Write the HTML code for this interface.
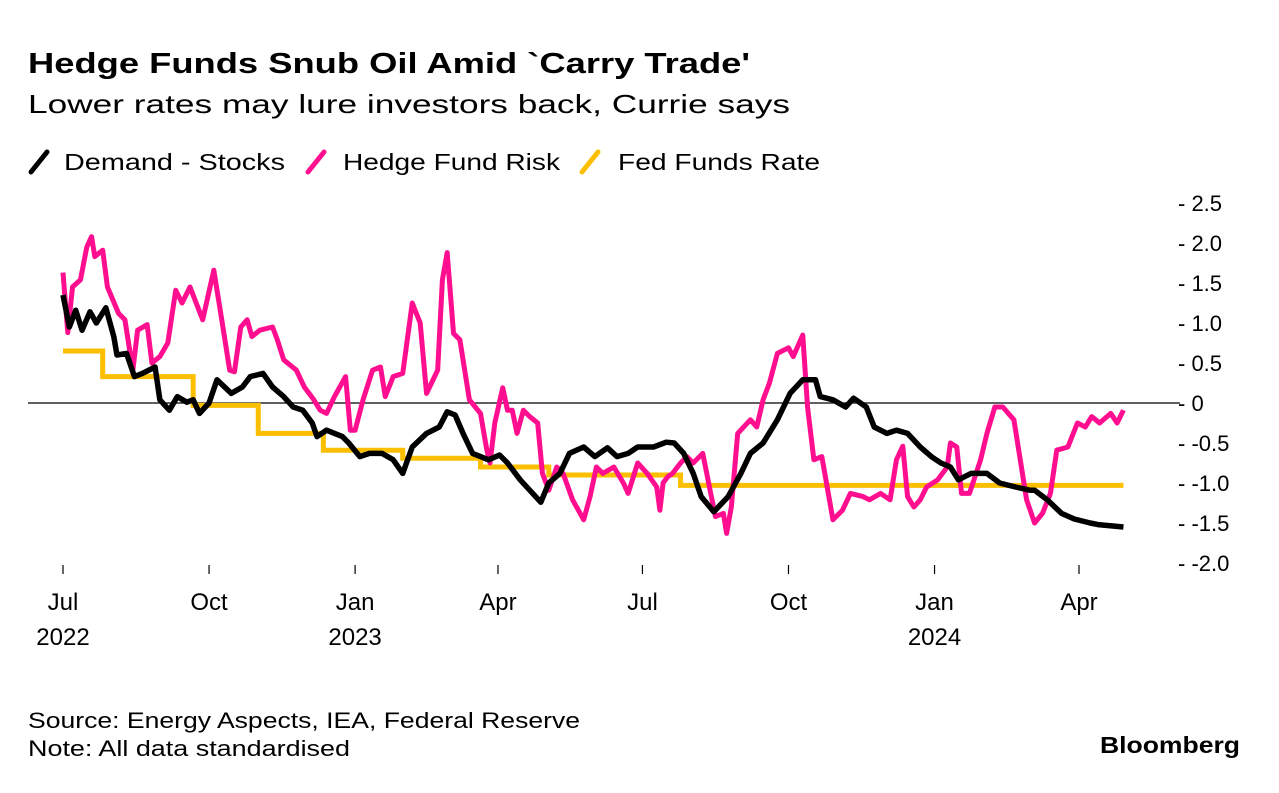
<!DOCTYPE html>
<html><head><meta charset="utf-8"><style>
body{margin:0;background:#fff;width:1279px;height:788px;overflow:hidden;font-family:"Liberation Sans",sans-serif;color:#000}
svg text{font-family:"Liberation Sans",sans-serif}
</style></head><body>
<svg width="1279" height="788">
<text x="28" y="73" font-size="29" font-weight="bold" textLength="722" lengthAdjust="spacingAndGlyphs">Hedge Funds Snub Oil Amid `Carry Trade'</text>
<text x="28" y="113" font-size="26" textLength="762" lengthAdjust="spacingAndGlyphs">Lower rates may lure investors back, Currie says</text>
<g>
<g><line x1="31" y1="172" x2="47" y2="152" stroke="#000" stroke-width="5" stroke-linecap="round"/><text x="64" y="170" font-size="23" textLength="221" lengthAdjust="spacingAndGlyphs">Demand - Stocks</text></g>
<g><line x1="308" y1="172" x2="324" y2="152" stroke="#ff0f8f" stroke-width="5" stroke-linecap="round"/><text x="343" y="170" font-size="23" textLength="217" lengthAdjust="spacingAndGlyphs">Hedge Fund Risk</text></g>
<g><line x1="582" y1="172" x2="598" y2="152" stroke="#fcbf00" stroke-width="5" stroke-linecap="round"/><text x="618" y="170" font-size="23" textLength="202" lengthAdjust="spacingAndGlyphs">Fed Funds Rate</text></g>
</g>
<g id="yaxis"></g>
<g id="xaxis"></g>
<line x1="28" y1="403" x2="1180" y2="403" stroke="#000" stroke-width="1.2"/>
<g id="series"></g>
<text x="28" y="728" font-size="22" textLength="552" lengthAdjust="spacingAndGlyphs">Source: Energy Aspects, IEA, Federal Reserve</text>
<text x="28" y="756" font-size="22" textLength="322" lengthAdjust="spacingAndGlyphs">Note: All data standardised</text>
<text x="1100" y="753" font-size="23" font-weight="bold" textLength="140" lengthAdjust="spacingAndGlyphs">Bloomberg</text>
</svg>
<script>
// days since 2022-07-01
const yTicks=[2.5,2.0,1.5,1.0,0.5,0,-0.5,-1.0,-1.5,-2.0];
const yTickLabels=["2.5","2.0","1.5","1.0","0.5","0","-0.5","-1.0","-1.5","-2.0"];
const xTickDays=[0,92,184,274,365,457,549,640];
const xTickLabels=["Jul","Oct","Jan","Apr","Jul","Oct","Jan","Apr"];
const xYearLabels=["2022","","2023","","","","2024",""];
const hfDays=[0,3,6,11,15,18,20,25,28,35,39,44,47,53,56,61,66,71,75,80,88,95,100,105,108,112,116,119,124,132,135,139,147,152,158,162,166,171,178,181,184,189,195,200,203,208,214,220,225,229,236,239,242,246,250,256,263,267,269,272,277,280,283,286,290,294,299,302,306,311,315,321,328,332,336,340,347,353,356,362,368,374,376,378,381,384,389,393,397,403,408,411,416,418,421,425,433,437,441,445,450,457,460,466,469,473,478,485,491,496,504,508,515,521,525,529,532,536,540,544,551,557,559,563,566,571,578,582,587,592,599,603,607,612,617,622,626,633,639,644,648,653,660,664,668];
const hfVals=[1.63,0.88,1.45,1.54,1.95,2.08,1.83,1.91,1.45,1.12,1.04,0.41,0.91,0.98,0.5,0.58,0.75,1.41,1.25,1.45,1.04,1.66,1.04,0.41,0.39,0.95,1.04,0.83,0.91,0.95,0.79,0.54,0.41,0.2,0.04,-0.09,-0.13,0.08,0.33,-0.34,-0.34,0.04,0.41,0.45,0.08,0.33,0.37,1.25,1.0,0.12,0.41,1.54,1.88,0.87,0.79,0.04,-0.13,-0.59,-0.75,-0.25,0.19,-0.09,-0.09,-0.38,-0.09,-0.17,-0.25,-0.88,-1.09,-0.8,-0.88,-1.21,-1.46,-1.17,-0.8,-0.88,-0.8,-1.0,-1.13,-0.75,-0.88,-1.05,-1.34,-1.0,-0.92,-0.88,-0.75,-0.67,-0.75,-0.63,-1.13,-1.42,-1.38,-1.63,-1.3,-0.38,-0.21,-0.3,0.04,0.25,0.62,0.69,0.58,0.85,-0.05,-0.71,-0.67,-1.46,-1.34,-1.13,-1.17,-1.21,-1.13,-1.21,-0.71,-0.54,-1.17,-1.3,-1.21,-1.05,-0.96,-0.8,-0.5,-0.55,-1.13,-1.13,-0.71,-0.38,-0.05,-0.05,-0.21,-0.71,-1.21,-1.5,-1.38,-1.13,-0.59,-0.55,-0.25,-0.3,-0.17,-0.25,-0.13,-0.25,-0.09];
const dsDays=[0,4,8,12,17,21,27,32,34,40,45,50,58,61,67,72,78,82,86,92,97,106,113,118,126,132,139,145,151,157,160,166,176,180,187,193,201,208,214,220,229,237,242,247,252,258,263,268,275,280,288,294,301,306,313,319,328,335,343,349,356,362,372,380,385,391,397,402,410,419,427,433,441,450,458,466,474,477,485,493,498,506,511,519,525,532,540,547,553,559,564,572,578,582,590,600,609,612,620,629,637,647,652,668];
const dsVals=[1.35,0.95,1.16,0.91,1.14,1.0,1.19,0.83,0.6,0.62,0.33,0.37,0.45,0.04,-0.09,0.08,0.01,0.04,-0.13,0.0,0.29,0.12,0.2,0.33,0.37,0.2,0.08,-0.05,-0.09,-0.25,-0.42,-0.34,-0.42,-0.5,-0.67,-0.63,-0.63,-0.71,-0.88,-0.55,-0.38,-0.3,-0.11,-0.15,-0.38,-0.63,-0.67,-0.71,-0.65,-0.75,-0.96,-1.09,-1.24,-1.0,-0.88,-0.63,-0.55,-0.67,-0.56,-0.67,-0.63,-0.55,-0.55,-0.49,-0.5,-0.63,-0.88,-1.17,-1.36,-1.17,-0.88,-0.63,-0.5,-0.21,0.12,0.29,0.29,0.08,0.04,-0.05,0.06,-0.05,-0.3,-0.38,-0.34,-0.38,-0.55,-0.67,-0.75,-0.8,-0.96,-0.88,-0.88,-0.88,-1.0,-1.05,-1.09,-1.09,-1.21,-1.38,-1.45,-1.5,-1.52,-1.55];
const ffDays=[0,25,82,123,164,214,263,306,389,668];
const ffVals=[0.65,0.33,-0.03,-0.38,-0.59,-0.69,-0.8,-0.9,-1.03,-1.03];

const NS="http://www.w3.org/2000/svg";
const xS=d=>63+d*1.5875, yS=v=>403-v*80;
const ya=document.getElementById('yaxis'), xa=document.getElementById('xaxis'), sg=document.getElementById('series');
function mk(tag,attrs,parent){const e=document.createElementNS(NS,tag);for(const k in attrs)e.setAttribute(k,attrs[k]);parent.appendChild(e);return e;}
yTicks.forEach((v,i)=>{
 const t=mk('text',{x:1178,y:yS(v)+8,'font-size':22},ya);
 t.textContent='- '+yTickLabels[i];
 
 
});
xTickDays.forEach((d,i)=>{
 const l=mk('line',{x1:xS(d),x2:xS(d),y1:565,y2:574,stroke:'#000','stroke-width':1.2},xa);
 
 
 const t=mk('text',{x:xS(d),y:610,'font-size':24,'text-anchor':'middle'},xa);
 t.textContent=xTickLabels[i];
 
 
 if(xYearLabels[i]){const y=mk('text',{x:xS(d),y:645,'font-size':24,'text-anchor':'middle'},xa);y.textContent=xYearLabels[i];
 
 }
});
let fp='';ffDays.forEach((d,i)=>{const x=xS(d),y=yS(ffVals[i]);if(i===0)fp+=`M${x},${y}`;else fp+=`H${x}V${y}`;});
const ff=mk('path',{d:fp,fill:'none',stroke:'#fcbf00','stroke-width':5},sg);


const hp=mk('path',{d:hfDays.map((d,i)=>(i?'L':'M')+xS(d)+','+yS(hfVals[i])).join(''),fill:'none',stroke:'#ff0f8f','stroke-width':5,'stroke-linejoin':'round'},sg);


const dp=mk('path',{d:dsDays.map((d,i)=>(i?'L':'M')+xS(d)+','+yS(dsVals[i])).join(''),fill:'none',stroke:'#000','stroke-width':5.5,'stroke-linejoin':'round'},sg);


</script>
</body></html>
